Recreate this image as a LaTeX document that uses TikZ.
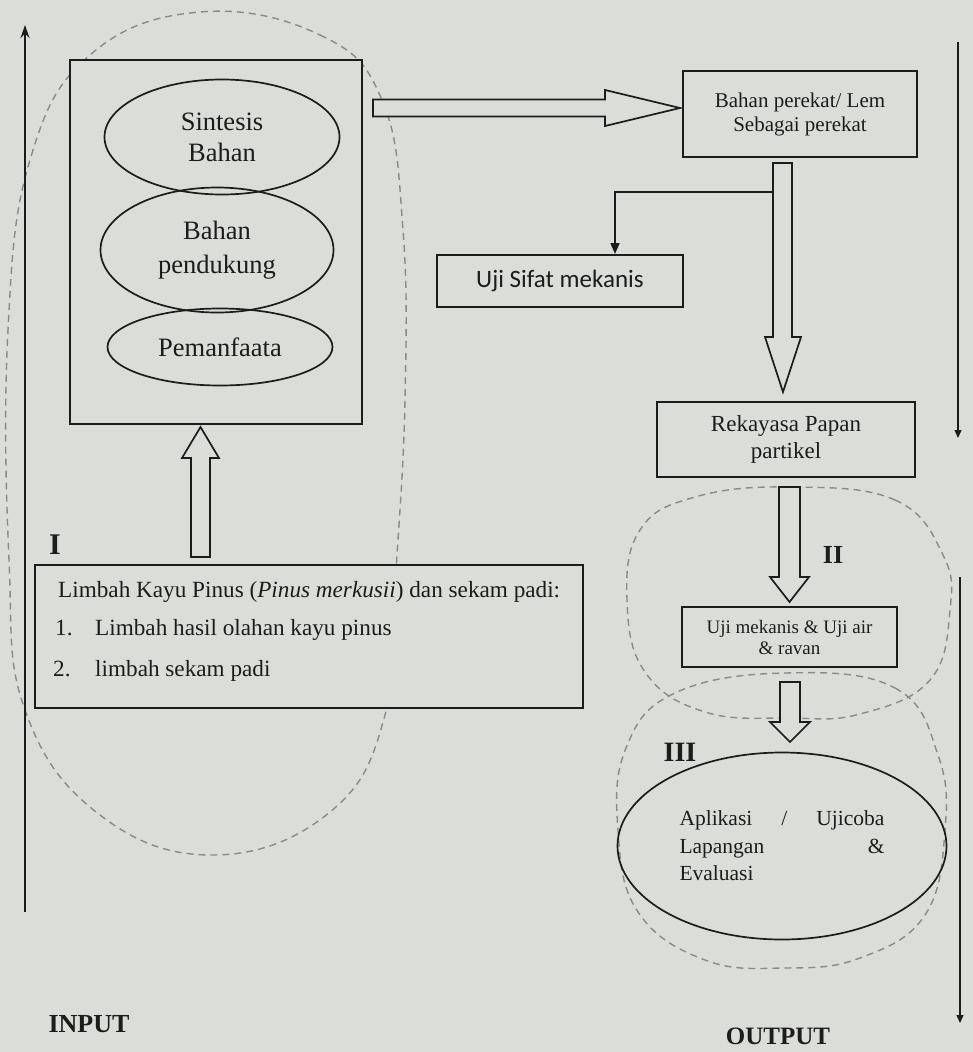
\documentclass[tikz,border=0pt]{standalone}
\usepackage{fontspec}
\setmainfont{Liberation Serif}
\newfontfamily\carl{Carlito}
\usetikzlibrary{shapes.geometric,arrows.meta,calc}
\definecolor{bg}{RGB}{219,222,216}
\definecolor{ink}{RGB}{28,28,28}
\definecolor{dashc}{RGB}{138,138,138}
\begin{document}
\begin{tikzpicture}[x=1pt,y=-1pt,
  box/.style={draw=ink, fill=bg, line width=1.9pt, inner sep=0pt},
  oval/.style={ellipse, draw=ink, line width=1.7pt, inner sep=0pt, align=center, text=ink},
  hollow/.style={draw=ink, fill=bg, line width=1.7pt, line join=miter},
  blob/.style={draw=dashc, line width=1.4pt, dash pattern=on 7pt off 5pt},
  axisline/.style={draw=ink, line width=1.6pt},
  lbl/.style={font=\bfseries\fontsize{26}{30}\selectfont, text=ink, inner sep=0pt},
  limtxt/.style={font=\fontsize{23.2}{26}\selectfont, text=ink, inner sep=0pt, anchor=base west},
]
\useasboundingbox (0,0) rectangle (973,1052);
\fill[bg] (0,0) rectangle (973,1052);

% dashed groupings
\draw[blob] plot[smooth cycle, tension=0.7] coordinates {(200,12) (320,35) (382,100) (403,230) (405,400) (396,570) (385,715) (330,812) (215,855) (100,815) (25,710) (9,560) (8,330) (30,160) (90,55)};
\draw[blob] plot[smooth cycle, tension=0.7] coordinates {(790,487) (895,500) (943,555) (950,610) (930,680) (860,714) (790,718) (705,712) (645,672) (627,600) (640,530) (695,497)};
\draw[blob] plot[smooth cycle, tension=0.7] coordinates {(785,673) (895,688) (938,755) (945,830) (925,915) (860,958) (785,968) (705,960) (638,912) (618,830) (626,748) (675,693)};

% main box with ovals
\node[box, minimum width=292, minimum height=364] (main) at (216,242) {};
\node[oval, minimum width=235, minimum height=115, font=\fontsize{26.5}{31}\selectfont] (e1) at (222,137) {Sintesis\\Bahan};
\node[oval, minimum width=233, minimum height=125, font=\fontsize{26.5}{34}\selectfont] (e2) at (217,250) {Bahan\\pendukung};
\node[oval, minimum width=225, minimum height=77, font=\fontsize{26.5}{31}\selectfont] (e3) at (220,347) {Pemanfaata};

% right column boxes
\node[box, minimum width=234, minimum height=86, align=center, text=ink, font=\fontsize{21}{24}\selectfont] (lem) at (800,114) {Bahan perekat/ Lem\\Sebagai perekat};
\node[box, minimum width=246, minimum height=52, text=ink, font=\carl\fontsize{25}{28}\selectfont] (sifat) at (560,281) {Uji Sifat mekanis};
\node[box, minimum width=258, minimum height=75, align=center, text=ink, font=\fontsize{23}{27}\selectfont] (papan) at (786,439.5) {Rekayasa Papan\\partikel};
\node[box, minimum width=215, minimum height=60, align=center, text=ink, font=\fontsize{19}{21}\selectfont] (ujiair) at (789.5,637) {Uji mekanis \& Uji air\\\& ravan};
\node[oval, minimum width=329, minimum height=187, align=left, font=\fontsize{21.5}{27.5}\selectfont] (apl) at (782,846)
  {\hbox to 205pt{Aplikasi\hfill/\hfill Ujicoba}\\\hbox to 205pt{Lapangan\hfill\&}\\Evaluasi};

% input box
\node[box, minimum width=548, minimum height=143] (limbah) at (309,636.5) {};
\node[limtxt] (l1) at (58,597) {Limbah Kayu Pinus (\textit{Pinus merkusii}) dan sekam padi:};
\node[limtxt] (n1) at (55,635) {1.};
\node[limtxt] (l2) at (95,635) {Limbah hasil olahan kayu pinus};
\node[limtxt] (n2) at (53,676) {2.};
\node[limtxt] (l3) at (95,676) {limbah sekam padi};

% hollow block arrows
\draw[hollow] (373,99.5) -- (605,99.5) -- (605,90) -- (680,108) -- (605,126) -- (605,116.5) -- (373,116.5) -- cycle;
\draw[hollow] (191,557) -- (191,458) -- (182,458) -- (200.5,427) -- (219,458) -- (210,458) -- (210,557) -- cycle;
\draw[hollow] (773,163) -- (773,337) -- (765,337) -- (783,392) -- (801,337) -- (792,337) -- (792,163) -- cycle;
\draw[hollow] (779,487) -- (779,577) -- (770,577) -- (789.5,602) -- (809,577) -- (800,577) -- (800,487) -- cycle;
\draw[hollow] (780,682) -- (780,722) -- (770,722) -- (790,742) -- (810,722) -- (800,722) -- (800,682) -- cycle;

% branch to Uji Sifat
\coordinate (br) at (773,192);
\draw[axisline, -{Triangle[length=11pt,width=9pt]}] (br) -| ([xshift=55pt]sifat.north);

% side axes
\coordinate (inA) at (25,912);
\coordinate (inB) at (25,25);
\draw[axisline, -{Stealth[length=13pt,width=9pt]}] (inA) -- (inB);
\coordinate (outA) at (958,42);
\coordinate (outB) at (958,438);
\draw[axisline, line width=1.3pt, -{Triangle[length=8pt,width=7pt]}] (outA) -- (outB);
\coordinate (outC) at (960,577);
\coordinate (outD) at (960,1023);
\draw[axisline, line width=1.3pt, -{Triangle[length=8pt,width=7pt]}] (outC) -- (outD);

% labels
\node[lbl, font=\bfseries\fontsize{30}{32}\selectfont] (L1) at (55,545) {I};
\node[lbl] (L2) at (833,555) {II};
\node[lbl, font=\bfseries\fontsize{28}{30}\selectfont] (L3) at (680,752) {III};
\node[lbl] (inp) at (89,1024) {INPUT};
\node[lbl, font=\bfseries\fontsize{25}{28}\selectfont] (outp) at (778,1036) {OUTPUT};
\end{tikzpicture}
\end{document}
